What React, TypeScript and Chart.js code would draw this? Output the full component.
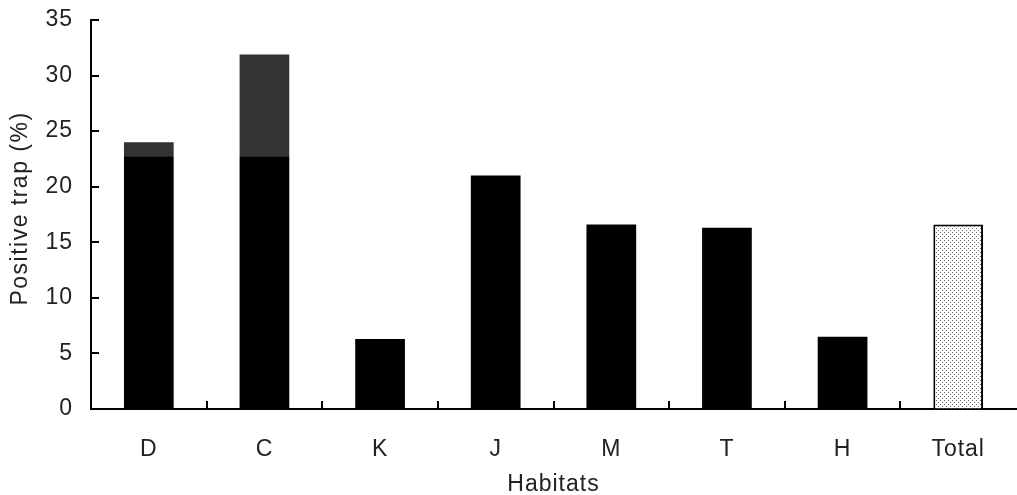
import React, { useEffect, useRef } from "react";
import { Chart, registerables } from "chart.js";
Chart.register(...registerables);

const categories = ["D", "C", "K", "J", "M", "T", "H", "Total"];
const values = [24.0, 31.9, 6.3, 21.0, 16.6, 16.3, 6.5, 16.6];
const yTicks = [0, 5, 10, 15, 20, 25, 30, 35];
const xTitle = "Habitats";
const yTitle = "Positive trap (%)";
const FONT = "'Liberation Sans', Arial, sans-serif";
const TEXT = "#222";

function makePattern(): CanvasPattern | string {
  const c = document.createElement("canvas");
  c.width = 4;
  c.height = 4;
  const g = c.getContext("2d");
  if (!g) return "#eee";
  g.fillStyle = "#fff";
  g.fillRect(0, 0, 4, 4);
  g.fillStyle = "#666";
  g.fillRect(0, 0, 1, 1);
  g.fillRect(2, 2, 1, 1);
  return g.createPattern(c, "repeat") || "#eee";
}

function setSpacing(ctx: any, v: string) {
  try {
    ctx.letterSpacing = v;
  } catch (e) {}
}

const inwardTicks = {
  id: "inwardTicks",
  beforeUpdate(chart: any) {
    setSpacing(chart.ctx, "1px");
  },
  beforeDraw(chart: any) {
    setSpacing(chart.ctx, "1px");
  },
  afterDatasetsDraw(chart: any) {
    const { ctx, chartArea, scales } = chart;
    const xs = scales.x;
    const ys = scales.y;
    ctx.save();
    // faint watermark overlay on the upper band
    const cw = xs.getPixelForValue(1) - xs.getPixelForValue(0);
    const wx0 = xs.getPixelForValue(0) - 0.27 * cw;
    const wx1 = xs.getPixelForValue(6) + 0.38 * cw;
    const wy1 = ys.getPixelForValue(22.7);
    ctx.fillStyle = "rgba(255,255,255,0.2)";
    ctx.fillRect(wx0, 0, wx1 - wx0, wy1);
    ctx.strokeStyle = "#000";
    ctx.lineWidth = 2;
    ctx.beginPath();
    for (const v of yTicks) {
      const y = Math.round(ys.getPixelForValue(v));
      ctx.moveTo(chartArea.left, y);
      ctx.lineTo(chartArea.left + 8, y);
    }
    for (let i = 0; i < categories.length - 1; i++) {
      const x = Math.round((xs.getPixelForValue(i) + xs.getPixelForValue(i + 1)) / 2);
      ctx.moveTo(x, chartArea.bottom);
      ctx.lineTo(x, chartArea.bottom - 8);
    }
    ctx.stroke();
    ctx.restore();
  },
  afterDraw(chart: any) {
    const { ctx, chartArea } = chart;
    ctx.save();
    const cy = (chartArea.top + chartArea.bottom) / 2 - 6;
    ctx.translate(21, cy);
    ctx.rotate(-Math.PI / 2);
    ctx.fillStyle = TEXT;
    ctx.font = "23px " + FONT;
    setSpacing(ctx, "1.5px");
    ctx.textAlign = "center";
    ctx.textBaseline = "middle";
    ctx.fillText(yTitle, 0, 0);
    ctx.restore();
  },
};

export default function App() {
  const ref = useRef<HTMLCanvasElement>(null);
  useEffect(() => {
    if (!ref.current) return;
    const pattern = makePattern();
    const n = categories.length;
    const bg = categories.map((_, i) => (i === n - 1 ? pattern : "#000"));
    const bw = categories.map((_, i) => (i === n - 1 ? 2 : 0));
    const chart = new Chart(ref.current, {
      type: "bar",
      data: {
        labels: categories,
        datasets: [
          {
            data: values,
            backgroundColor: bg as any,
            borderColor: "#000",
            borderWidth: bw,
            barPercentage: 0.43,
            categoryPercentage: 1,
          },
        ],
      },
      options: {
        animation: false,
        responsive: false,
        maintainAspectRatio: false,
        layout: { padding: { top: 0, right: 1, left: 0, bottom: 0 } },
        plugins: { legend: { display: false }, tooltip: { enabled: false } },
        scales: {
          x: {
            offset: true,
            grid: { display: true, drawOnChartArea: false, drawTicks: false },
            border: { display: true, color: "#000", width: 2 },
            ticks: { color: TEXT, font: { family: FONT, size: 23 }, padding: 27 },
            title: {
              display: true,
              text: xTitle,
              color: TEXT,
              font: { family: FONT, size: 23 },
              padding: { top: 4, bottom: -3 },
            },
            afterFit: (s: any) => {
              s.height = 86;
            },
          },
          y: {
            min: 0,
            max: 35,
            afterBuildTicks: (s: any) => {
              s.ticks = yTicks.map((v) => ({ value: v }));
            },
            grid: { display: true, drawOnChartArea: false, drawTicks: false },
            border: { display: true, color: "#000", width: 2 },
            ticks: { color: TEXT, font: { family: FONT, size: 23 }, padding: 18 },
            title: { display: false },
            afterFit: (s: any) => {
              s.width = 91;
              s.paddingTop = 20;
              s.paddingBottom = 0;
            },
          },
        },
      },
      plugins: [inwardTicks],
    });
    return () => chart.destroy();
  }, []);
  return (
    <div style={{ position: "absolute", left: 0, top: 0, width: 1017, height: 495, background: "#fff" }}>
      <canvas ref={ref} width={1017} height={495} style={{ display: "block" }} />
    </div>
  );
}
